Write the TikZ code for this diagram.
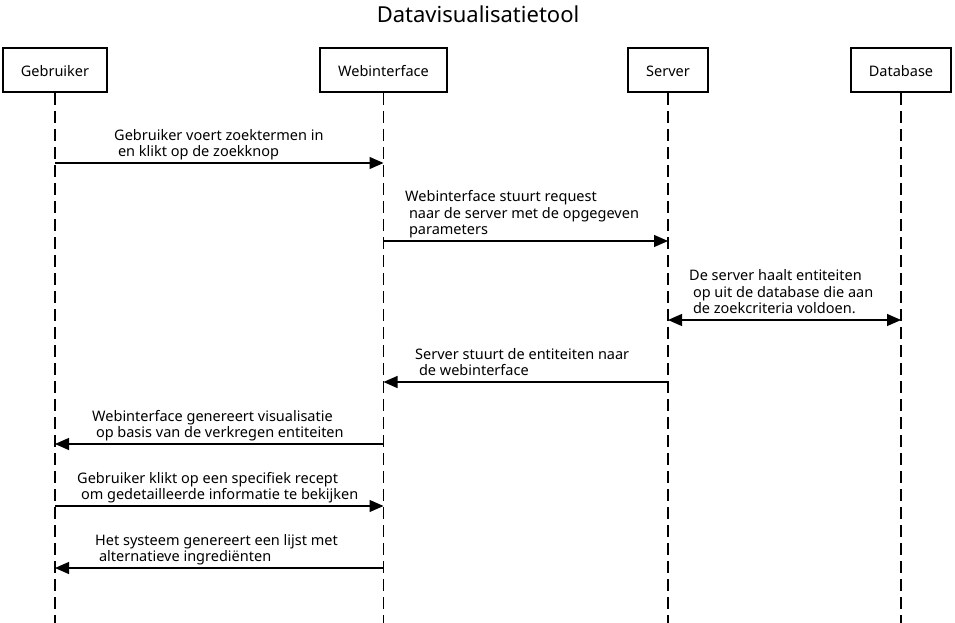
\documentclass[tikz,border=0pt]{standalone}
\usepackage{fontspec}
\setmainfont{Noto Sans}
\usetikzlibrary{arrows.meta}
\newcommand\ind{\hspace*{3.8pt}}
\definecolor{line_black}{RGB}{0,0,0}

\begin{document}
\begin{tikzpicture}[x=1pt,y=-1pt,line_black]
    \tikzstyle{actor}=[draw, line width=2pt, minimum height=44pt, inner sep=0pt, text height=13pt, text depth=0pt, font=\fontsize{14.5}{16.5}\selectfont]
    \tikzstyle{lifeline}=[line width=1.3pt, dash pattern=on 12pt off 6pt]
    \tikzstyle{msg}=[-{Triangle[length=14pt,width=12pt]}, line width=1.2pt]
    \tikzstyle{both}=[{Triangle[length=14pt,width=12pt]}-{Triangle[length=14pt,width=12pt]}, line width=1.2pt]
    \tikzstyle{txt}=[anchor=south west, inner sep=0pt, align=left, font=\fontsize{14.5}{16.5}\selectfont, execute at end node=\strut]

    \useasboundingbox (0,0) rectangle (955,623);

    \node[font=\fontsize{22}{26}\selectfont] (title) at (478,14) {Datavisualisatietool};

    \node[actor, minimum width=104pt] (geb) at (55,70)    {Gebruiker};
    \node[actor, minimum width=127pt] (web) at (383.5,70) {Webinterface};
    \node[actor, minimum width=80pt]  (srv) at (668,70)   {Server};
    \node[actor, minimum width=100pt] (db)  at (901,70)   {Database};

    % lifelines
    \coordinate (gebend) at (geb.south |- 0,623);
    \coordinate (webend) at (web.south |- 0,623);
    \coordinate (srvend) at (srv.south |- 0,623);
    \coordinate (dbend)  at (db.south |- 0,623);
    \draw[lifeline] (geb.south) -- (gebend);
    \draw[lifeline] (web.south) -- (webend);
    \draw[lifeline] (srv.south) -- (srvend);
    \draw[lifeline] (db.south) -- (dbend);

    % messages
    \coordinate (g1) at (geb.south |- 0,163);
    \coordinate (w1) at (web.south |- 0,163);
    \coordinate (w2) at (web.south |- 0,241);
    \coordinate (s2) at (srv.south |- 0,241);
    \coordinate (s3) at (srv.south |- 0,320);
    \coordinate (d3) at (db.south |- 0,320);
    \coordinate (s4) at (srv.south |- 0,382);
    \coordinate (w4) at (web.south |- 0,382);
    \coordinate (w5) at (web.south |- 0,444);
    \coordinate (g5) at (geb.south |- 0,444);
    \coordinate (g6) at (geb.south |- 0,506);
    \coordinate (w6) at (web.south |- 0,506);
    \coordinate (w7) at (web.south |- 0,568);
    \coordinate (g7) at (geb.south |- 0,568);

    \draw[msg]  (g1) -- (w1);
    \draw[msg]  (w2) -- (s2);
    \draw[both] (s3) -- (d3);
    \draw[msg]  (s4) -- (w4);
    \draw[msg]  (w5) -- (g5);
    \draw[msg]  (g6) -- (w6);
    \draw[msg]  (w7) -- (g7);

    \node[txt] (t1) at (114,162) {Gebruiker voert zoektermen in\\\ind en klikt op de zoekknop};
    \node[txt] (t2) at (405,240) {Webinterface stuurt request\\\ind naar de server met de opgegeven\\\ind parameters};
    \node[txt] (t3) at (689,319) {De server haalt entiteiten\\\ind op uit de database die aan\\\ind de zoekcriteria voldoen.};
    \node[txt] (t4) at (415,381) {Server stuurt de entiteiten naar\\\ind de webinterface};
    \node[txt] (t5) at (92,443)  {Webinterface genereert visualisatie\\\ind op basis van de verkregen entiteiten};
    \node[txt] (t6) at (77,505)  {Gebruiker klikt op een specifiek recept\\\ind om gedetailleerde informatie te bekijken};
    \node[txt] (t7) at (95,567)  {Het systeem genereert een lijst met\\\ind alternatieve ingrediënten};
\end{tikzpicture}
\end{document}
